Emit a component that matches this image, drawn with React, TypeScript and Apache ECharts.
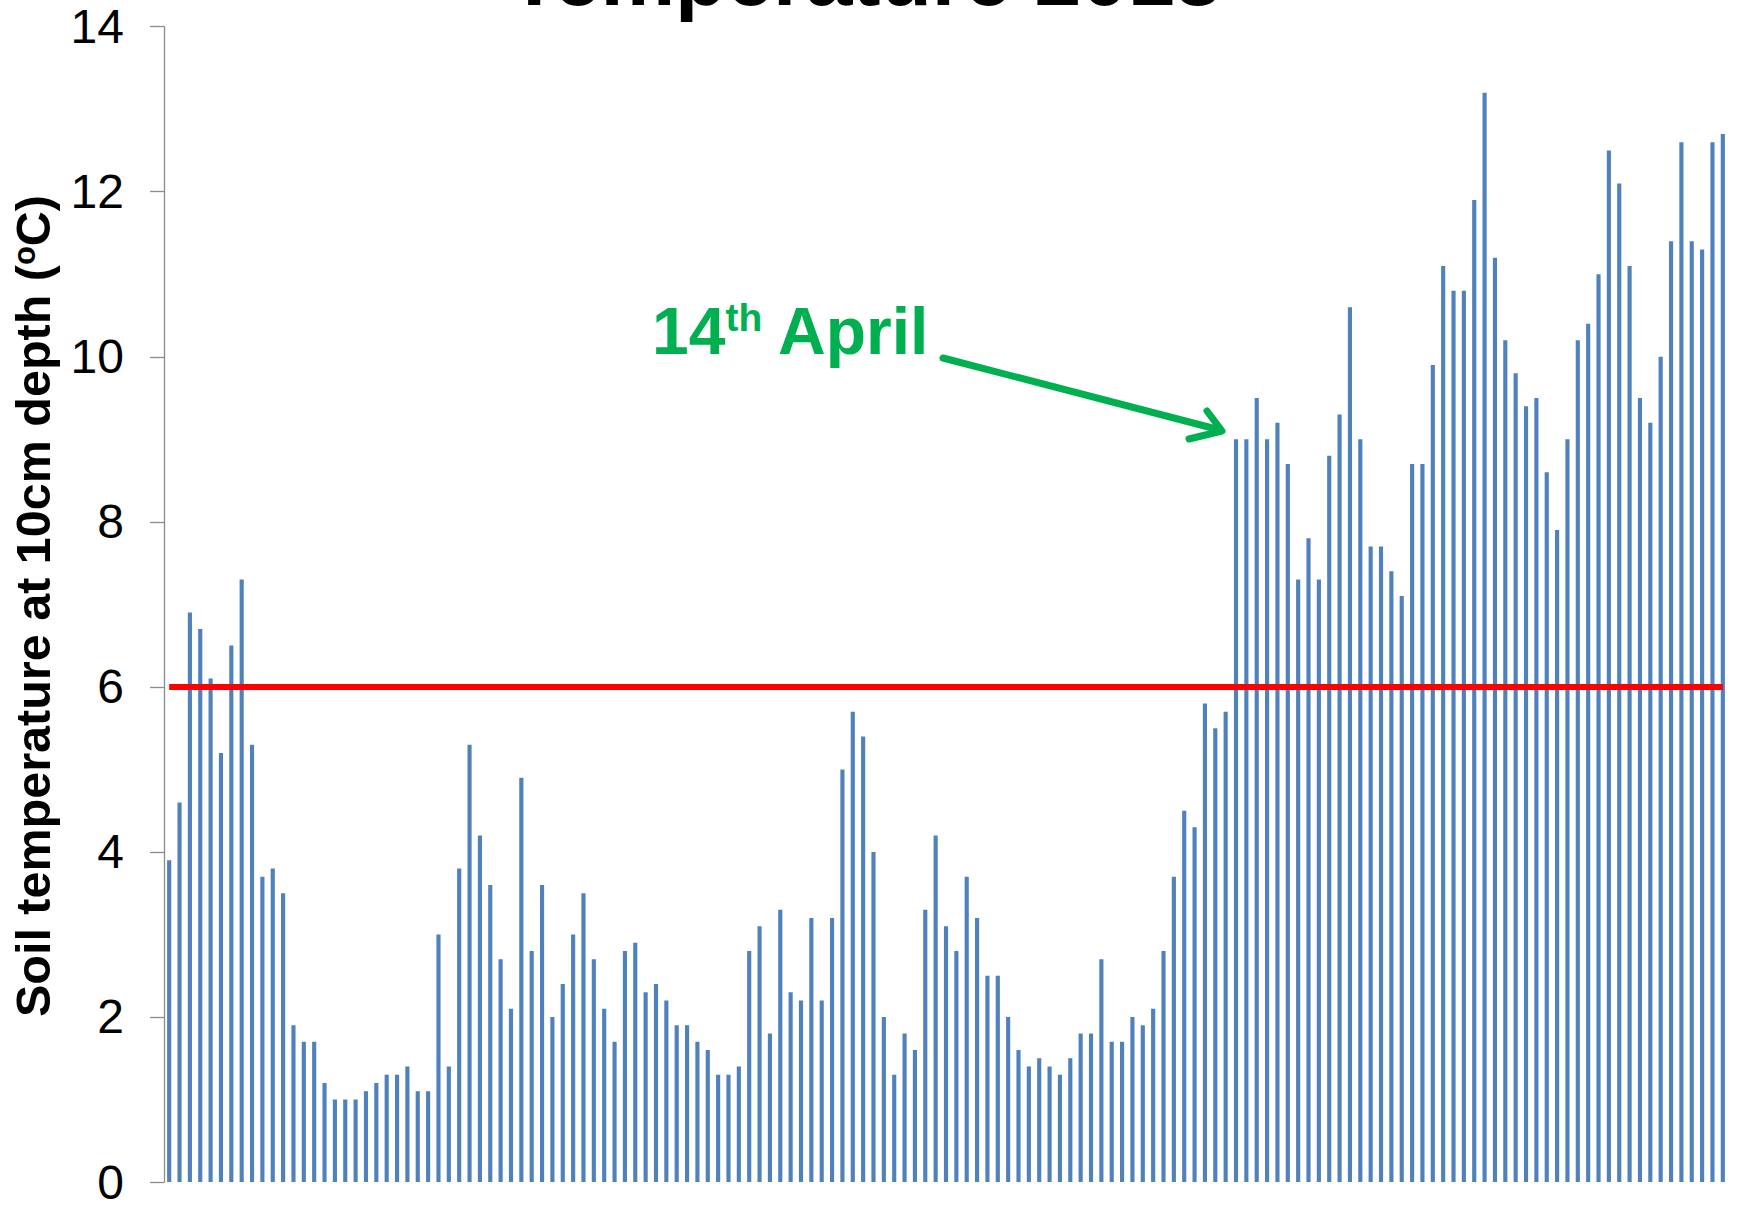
import React, { useEffect, useRef } from "react";
import * as echarts from "echarts";

const TITLE = "Temperature 2013";
const Y_LABEL = "Soil temperature at 10cm depth ({sup|o}C)";
const ANNOTATION = "14{sup|th} April";

const MONTHS = ["Jan", "Feb", "Mar", "Apr", "May"];
const MONTH_DAYS = [31, 28, 31, 30, 31];
const days: string[] = [];
MONTHS.forEach((m, i) => {
  for (let d = 1; d <= MONTH_DAYS[i]; d++) days.push(`${d} ${m}`);
});

// Daily soil temperature at 10cm depth, 1 Jan – 31 May
const soilTemp = [
  3.9, 4.6, 6.9, 6.7, 6.1, 5.2, 6.5, 7.3, 5.3, 3.7,
  3.8, 3.5, 1.9, 1.7, 1.7, 1.2, 1.0, 1.0, 1.0, 1.1,
  1.2, 1.3, 1.3, 1.4, 1.1, 1.1, 3.0, 1.4, 3.8, 5.3,
  4.2, 3.6, 2.7, 2.1, 4.9, 2.8, 3.6, 2.0, 2.4, 3.0,
  3.5, 2.7, 2.1, 1.7, 2.8, 2.9, 2.3, 2.4, 2.2, 1.9,
  1.9, 1.7, 1.6, 1.3, 1.3, 1.4, 2.8, 3.1, 1.8, 3.3,
  2.3, 2.2, 3.2, 2.2, 3.2, 5.0, 5.7, 5.4, 4.0, 2.0,
  1.3, 1.8, 1.6, 3.3, 4.2, 3.1, 2.8, 3.7, 3.2, 2.5,
  2.5, 2.0, 1.6, 1.4, 1.5, 1.4, 1.3, 1.5, 1.8, 1.8,
  2.7, 1.7, 1.7, 2.0, 1.9, 2.1, 2.8, 3.7, 4.5, 4.3,
  5.8, 5.5, 5.7, 9.0, 9.0, 9.5, 9.0, 9.2, 8.7, 7.3,
  7.8, 7.3, 8.8, 9.3, 10.6, 9.0, 7.7, 7.7, 7.4, 7.1,
  8.7, 8.7, 9.9, 11.1, 10.8, 10.8, 11.9, 13.2, 11.2, 10.2,
  9.8, 9.4, 9.5, 8.6, 7.9, 9.0, 10.2, 10.4, 11.0, 12.5,
  12.1, 11.1, 9.5, 9.2, 10.0, 11.4, 12.6, 11.4, 11.3, 12.6,
  12.7,
];

const THRESHOLD = 6;
const Y_MIN = 0;
const Y_MAX = 14;
const Y_INTERVAL = 2;

const FONT = '"Liberation Sans", Arial, sans-serif';
const GREEN = "#00B050";

export default function App() {
  const ref = useRef<HTMLDivElement>(null);

  useEffect(() => {
    if (!ref.current) return;
    const chart = echarts.init(ref.current, undefined, { renderer: "svg" });
    chart.setOption({
      animation: false,
      backgroundColor: "#ffffff",
      grid: { left: 164, top: 26.7, width: 1564, height: 1164, containLabel: false },
      xAxis: {
        type: "category",
        data: days,
        axisLine: { show: false },
        axisTick: { show: false },
        axisLabel: { show: false },
        splitLine: { show: false },
      },
      yAxis: {
        type: "value",
        min: Y_MIN,
        max: Y_MAX,
        interval: Y_INTERVAL,
        axisLine: { show: true, lineStyle: { color: "#8c8c8c", width: 1.3 } },
        axisTick: { show: true, inside: false, length: 14, lineStyle: { color: "#8c8c8c", width: 1.3 } },
        splitLine: { show: false },
        axisLabel: { fontSize: 48, color: "#000", fontFamily: FONT, margin: 40 },
      },
      series: [
        {
          type: "bar",
          data: soilTemp,
          barWidth: "40%",
          itemStyle: { color: "#4F81BD" },
          markLine: {
            silent: true,
            symbol: "none",
            label: { show: false },
            lineStyle: { color: "#FF0000", width: 6, type: "solid" },
            data: [[{ coord: [-0.5, THRESHOLD] }, { coord: [days.length - 1, THRESHOLD] }]],
          },
        },
      ],
      graphic: [
        {
          type: "text",
          x: 865,
          y: -24,
          style: {
            text: TITLE,
            fontSize: 84,
            fontWeight: "bold",
            fontFamily: FONT,
            fill: "#000",
            align: "center",
            verticalAlign: "middle",
          },
        },
        {
          type: "text",
          x: 33,
          y: 606,
          rotation: Math.PI / 2,
          style: {
            text: Y_LABEL,
            fontSize: 48.5,
            fontWeight: "bold",
            fontFamily: FONT,
            fill: "#000",
            align: "center",
            verticalAlign: "middle",
            rich: {
              sup: { fontSize: 31, fontWeight: "bold", fontFamily: FONT, fill: "#000", verticalAlign: "top" },
            },
          },
        },
        {
          type: "text",
          x: 652,
          y: 331,
          style: {
            text: ANNOTATION,
            fontSize: 66,
            fontWeight: "bold",
            fontFamily: FONT,
            fill: GREEN,
            align: "left",
            verticalAlign: "middle",
            rich: {
              sup: { fontSize: 39, fontWeight: "bold", fontFamily: FONT, fill: GREEN, verticalAlign: "top" },
            },
          },
        },
        {
          type: "line",
          shape: { x1: 943, y1: 358, x2: 1220, y2: 430 },
          style: { stroke: GREEN, lineWidth: 7, lineCap: "round" },
        },
        {
          type: "polyline",
          shape: { points: [[1207, 411], [1222, 431], [1189, 439]] },
          style: { stroke: GREEN, fill: "none", lineWidth: 7, lineCap: "round", lineJoin: "round" },
        },
      ],
    });
    return () => chart.dispose();
  }, []);

  return (
    <div
      ref={ref}
      style={{ position: "fixed", left: 0, top: 0, width: "1737px", height: "1206px", background: "#fff" }}
    />
  );
}
